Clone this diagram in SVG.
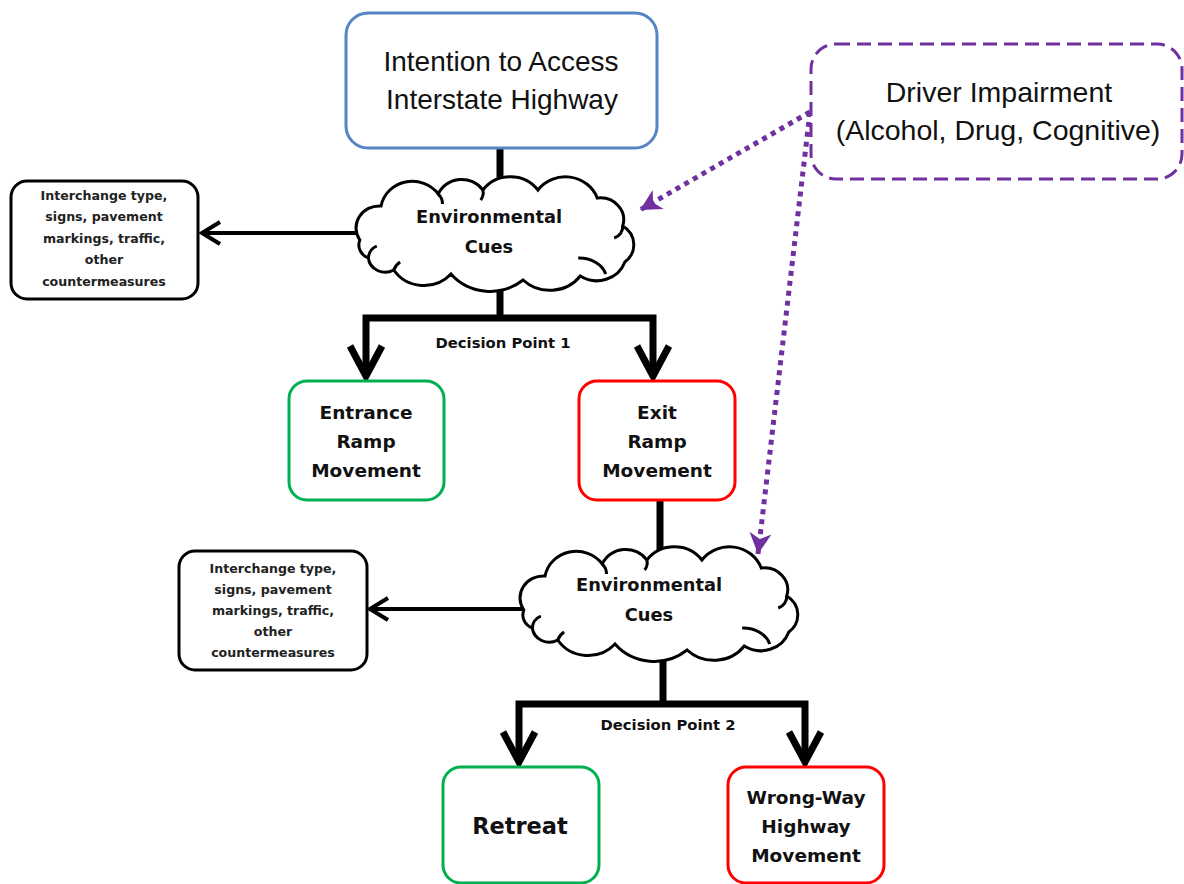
<svg xmlns="http://www.w3.org/2000/svg" width="1184" height="884" viewBox="0 0 1184 884">
<style>
.bg{fill:#ffffff}
.conn{fill:none;stroke:#000;stroke-width:7;stroke-linejoin:miter}
.thin{fill:none;stroke:#000;stroke-width:4}
.dot{fill:none;stroke:#7030a0;stroke-width:5;stroke-dasharray:5 5}
.box{fill:#fff;stroke:#000;stroke-width:3}
.blue{fill:#fff;stroke:#5585c5;stroke-width:3}
.green{fill:#fff;stroke:#00b050;stroke-width:3}
.red{fill:#fff;stroke:#ff0000;stroke-width:3}
.purple{fill:#fff;stroke:#7030a0;stroke-width:3;stroke-dasharray:14 7}
.cloud{fill:#fff;stroke:#000;stroke-width:3;vector-effect:non-scaling-stroke}
.curl{fill:none;stroke:#000;stroke-width:3;vector-effect:non-scaling-stroke}
.big{font-family:"Liberation Sans",Arial,sans-serif;font-size:28px;fill:#111;text-anchor:middle}
.big2{font-family:"Liberation Sans",Arial,sans-serif;font-size:28.5px;fill:#111;text-anchor:middle}
.cue{font-family:"DejaVu Sans",Verdana,sans-serif;font-weight:bold;font-size:17.8px;fill:#111;text-anchor:middle}
.dp{font-family:"DejaVu Sans",Verdana,sans-serif;font-weight:bold;font-size:14.8px;fill:#111;text-anchor:middle}
.sm{font-family:"DejaVu Sans",Verdana,sans-serif;font-weight:bold;font-size:12.6px;fill:#222;text-anchor:middle}
.mid{font-family:"DejaVu Sans",Verdana,sans-serif;font-weight:bold;font-size:18.5px;fill:#111;text-anchor:middle}
.ret{font-family:"DejaVu Sans",Verdana,sans-serif;font-weight:bold;font-size:22.5px;fill:#111;text-anchor:middle}
</style>
<defs>
<marker id="chevBig" viewBox="-36 -22 42 44" refX="0" refY="0" markerWidth="42" markerHeight="44" markerUnits="userSpaceOnUse" orient="auto" overflow="visible">
<path d="M-30,-16 L0,0 L-30,16" fill="none" stroke="#000" stroke-width="7"/>
</marker>
<marker id="chevSmall" viewBox="-24 -16 30 32" refX="0" refY="0" markerWidth="30" markerHeight="32" markerUnits="userSpaceOnUse" orient="auto" overflow="visible">
<path d="M-18,-11 L0,0 L-18,11" fill="none" stroke="#000" stroke-width="4"/>
</marker>
<marker id="purpleHead" viewBox="-24 -14 28 28" refX="0" refY="0" markerWidth="28" markerHeight="28" markerUnits="userSpaceOnUse" orient="auto" overflow="visible">
<path d="M0,0 L-21,-11 L-15,0 L-21,11 Z" fill="#7030a0"/>
</marker>
<g id="cloudShape">
<path class="cloud" d="M 14,64 A 22,22 0 0 1 34,30 A 30,30 0 0 1 88,18 A 24,24 0 0 1 130,14 A 32,32 0 0 1 182,14 A 32,32 0 0 1 238,22 A 22,22 0 0 1 262,50 A 22,22 0 0 1 264,86 A 28,28 0 0 1 222,100 A 36,36 0 0 1 168,104 A 48,48 0 0 1 100,98 A 34,34 0 0 1 46,94 A 16,16 0 0 1 22,82 A 14,14 0 0 1 14,64 Z"/>
<path class="curl" d="M 220,82 A 26,22 0 0 1 246,98"/>
<path class="curl" d="M 262,50 A 12,12 0 0 1 254,62"/>
<path class="curl" d="M 22,82 A 14,14 0 0 1 30,70"/>
<path class="curl" d="M 46,94 A 16,16 0 0 1 52,86"/>
<path class="curl" d="M 88,18 A 14,14 0 0 1 92,28"/>
<path class="curl" d="M 130,14 A 12,12 0 0 1 128,24"/>
</g>
</defs>
<rect class="bg" x="0" y="0" width="1184" height="884"/>

<g id="connectors">
<path class="conn" d="M500,148 V200"/>
<path class="thin" d="M364,233 H202" marker-end="url(#chevSmall)"/>
<path class="conn" d="M500,270 V318"/>
<path class="conn" d="M500,318 H366 V376" marker-end="url(#chevBig)"/>
<path class="conn" d="M500,318 H653 V376" marker-end="url(#chevBig)"/>
<path class="conn" d="M660,500 V575"/>
<path class="thin" d="M532,609 H370" marker-end="url(#chevSmall)"/>
<path class="conn" d="M663,640 V704"/>
<path class="conn" d="M663,704 H519 V762" marker-end="url(#chevBig)"/>
<path class="conn" d="M663,704 H805 V762" marker-end="url(#chevBig)"/>
<path class="dot" d="M810,112 L640,210" marker-end="url(#purpleHead)"/>
<path class="dot" d="M810,112 L758,554" marker-end="url(#purpleHead)"/>
</g>

<g id="intention">
<rect class="blue" x="346" y="13" width="311" height="135" rx="22"/>
<text class="big" x="501" y="71">Intention to Access</text>
<text class="big" x="502" y="109">Interstate Highway</text>
</g>

<g id="impairment">
<rect class="purple" x="811" y="44" width="371" height="135" rx="25"/>
<text class="big2" x="999" y="102">Driver Impairment</text>
<text class="big2" x="998" y="140">(Alcohol, Drug, Cognitive)</text>
</g>

<g id="cues1">
<use href="#cloudShape" transform="translate(345,176) scale(1.06,1)"/>
<text class="cue" x="489" y="223">Environmental</text>
<text class="cue" x="489" y="253">Cues</text>
</g>

<g id="measures1">
<rect class="box" x="11" y="181" width="187" height="118" rx="16"/>
<text class="sm" x="104" y="200">Interchange type,</text>
<text class="sm" x="104" y="221">signs, pavement</text>
<text class="sm" x="104" y="243">markings, traffic,</text>
<text class="sm" x="104" y="264">other</text>
<text class="sm" x="104" y="286">countermeasures</text>
</g>

<g id="dp1">
<text class="dp" x="503" y="348">Decision Point 1</text>
</g>

<g id="entrance">
<rect class="green" x="289" y="381" width="155" height="119" rx="18"/>
<text class="mid" x="366" y="419">Entrance</text>
<text class="mid" x="366" y="448">Ramp</text>
<text class="mid" x="366" y="477">Movement</text>
</g>

<g id="exit">
<rect class="red" x="579" y="381" width="156" height="119" rx="18"/>
<text class="mid" x="657" y="419">Exit</text>
<text class="mid" x="657" y="448">Ramp</text>
<text class="mid" x="657" y="477">Movement</text>
</g>

<g id="cues2">
<use href="#cloudShape" transform="translate(509,546) scale(1.06,1)"/>
<text class="cue" x="649" y="591">Environmental</text>
<text class="cue" x="649" y="621">Cues</text>
</g>

<g id="measures2">
<rect class="box" x="179" y="551" width="188" height="119" rx="16"/>
<text class="sm" x="273" y="573">Interchange type,</text>
<text class="sm" x="273" y="594">signs, pavement</text>
<text class="sm" x="273" y="615">markings, traffic,</text>
<text class="sm" x="273" y="636">other</text>
<text class="sm" x="273" y="657">countermeasures</text>
</g>

<g id="dp2">
<text class="dp" x="668" y="730">Decision Point 2</text>
</g>

<g id="retreat">
<rect class="green" x="443" y="767" width="156" height="116" rx="18"/>
<text class="ret" x="520" y="834">Retreat</text>
</g>

<g id="wrongway">
<rect class="red" x="728" y="767" width="156" height="116" rx="18"/>
<text class="mid" x="806" y="804">Wrong-Way</text>
<text class="mid" x="806" y="833">Highway</text>
<text class="mid" x="806" y="862">Movement</text>
</g>
</svg>
